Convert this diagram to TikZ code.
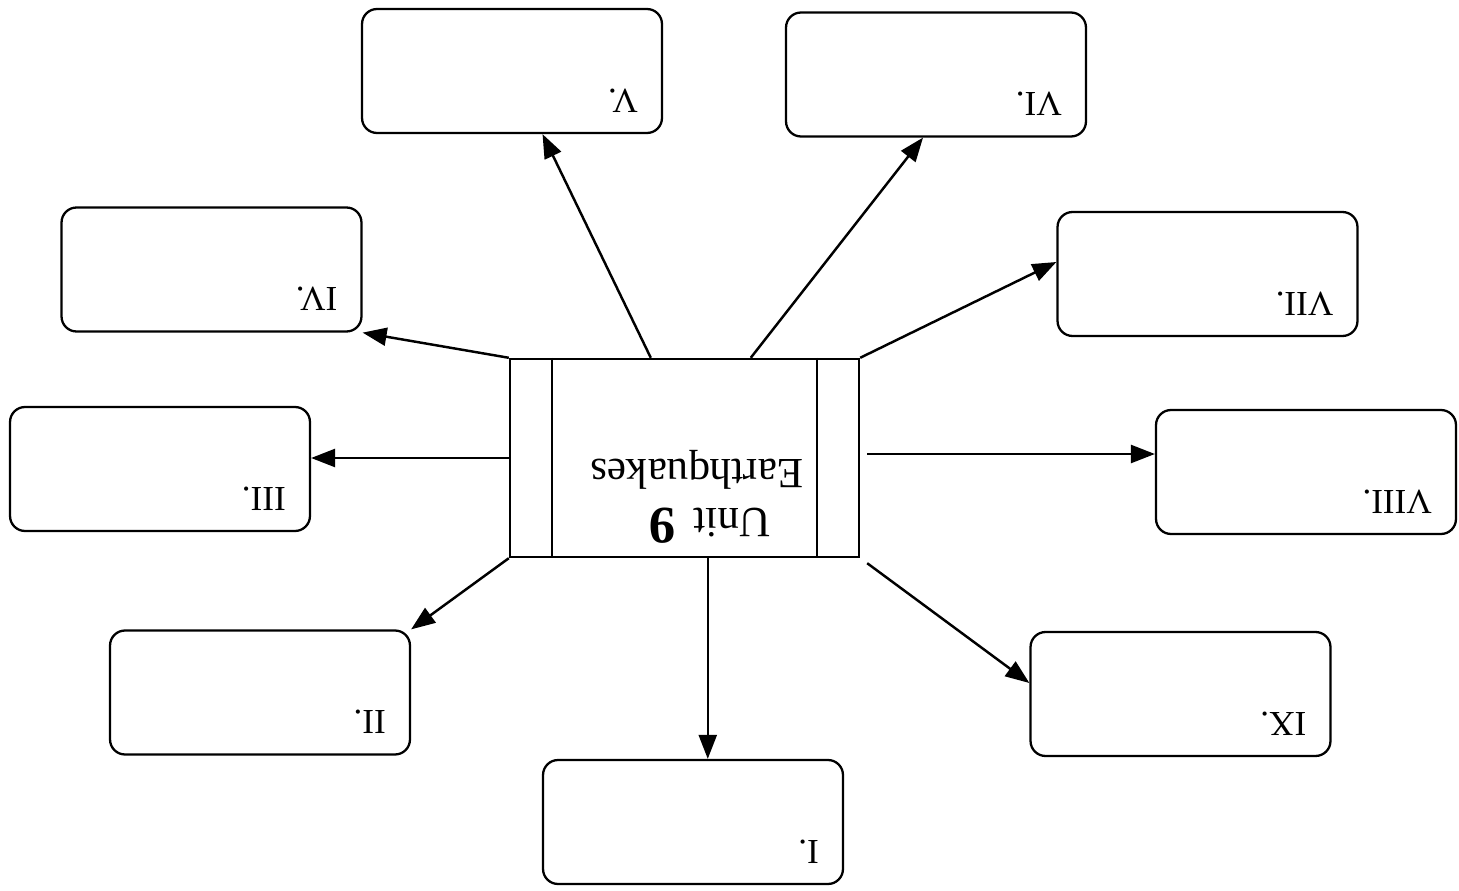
\documentclass[tikz,border=0pt]{standalone}
\usepackage{fontspec}
\setmainfont{Liberation Serif}
\usetikzlibrary{arrows.meta}
\begin{document}
\begin{tikzpicture}[x=0.02cm,y=-0.02cm,
  box/.style={draw,line width=1.3pt,rounded corners=0.3cm,minimum width=6cm,minimum height=2.48cm,inner sep=0pt},
  lab/.style={rotate=180,anchor=base west,inner sep=0pt,font=\fontsize{20}{24}\selectfont},
  arr/.style={line width=1.4pt,-{Triangle[length=0.48cm,width=0.36cm]}}]
\useasboundingbox[fill=white] (0,0) rectangle (1459,891);
% centre
\node[draw,line width=1.4pt,minimum width=6.98cm,minimum height=3.96cm,inner sep=0pt] (C) at (684.5,458) {};
\draw[line width=1.2pt] ([xshift=0.86cm]C.north west) -- ([xshift=0.86cm]C.south west);
\draw[line width=1.2pt] ([xshift=-0.86cm]C.north east) -- ([xshift=-0.86cm]C.south east);
\node[rotate=180,inner sep=0pt,font=\fontsize{24.5}{28}\selectfont] (t1) at (697,470) {Earthquakes};
\node[rotate=180,inner sep=0pt,anchor=base,font=\fontsize{24.5}{28}\selectfont] (t2) at (710,508) {Unit\, {\fontsize{30}{32}\selectfont\textbf{9}}};
% boxes
\node[box] (V) at (512,71) {};
\node[box] (VI) at (936,74.5) {};
\node[box] (IV) at (211.5,269.5) {};
\node[box] (VII) at (1207.5,274) {};
\node[box] (III) at (160,469) {};
\node[box] (VIII) at (1306,472) {};
\node[box] (II) at (260,692.5) {};
\node[box] (IX) at (1180.5,694) {};
\node[box] (I) at (693,822) {};
% labels
\foreach \n/\t in {V/V.,VI/VI.,IV/IV.,VII/VII.,III/III.,VIII/VIII.,II/II.,IX/IX.,I/I.}
  \node[lab] (l\n) at ([xshift=-0.5cm,yshift=0.9cm]\n.south east) {\t};
% start points
\coordinate (s5) at ([xshift=2.84cm]C.north west);
\coordinate (s6) at ([xshift=4.84cm]C.north west);
\coordinate (s8) at ([xshift=0.14cm,yshift=0.08cm]C.east);
\coordinate (s9) at ([xshift=0.14cm,yshift=-0.1cm]C.south east);
\coordinate (s1) at ([xshift=3.98cm]C.south west);
% arrows
\draw[arr] (s5) -- (V);
\draw[arr] (s6) -- ([xshift=-0.26cm]VI.south);
\draw[arr] (C.north east) -- ([yshift=0.24cm]VII.west);
\draw[arr] (s8) -- (s8 -| VIII.west);
\draw[arr] (s9) -- ([yshift=0.22cm]IX.west);
\draw[arr] (s1) -- (s1 |- I.north);
\draw[arr] (C.south west) -- (II.north east);
\draw[arr] (C.west) -- (C.west -| III.east);
\draw[arr] (C.north west) -- (IV.south east);
\end{tikzpicture}
\end{document}
